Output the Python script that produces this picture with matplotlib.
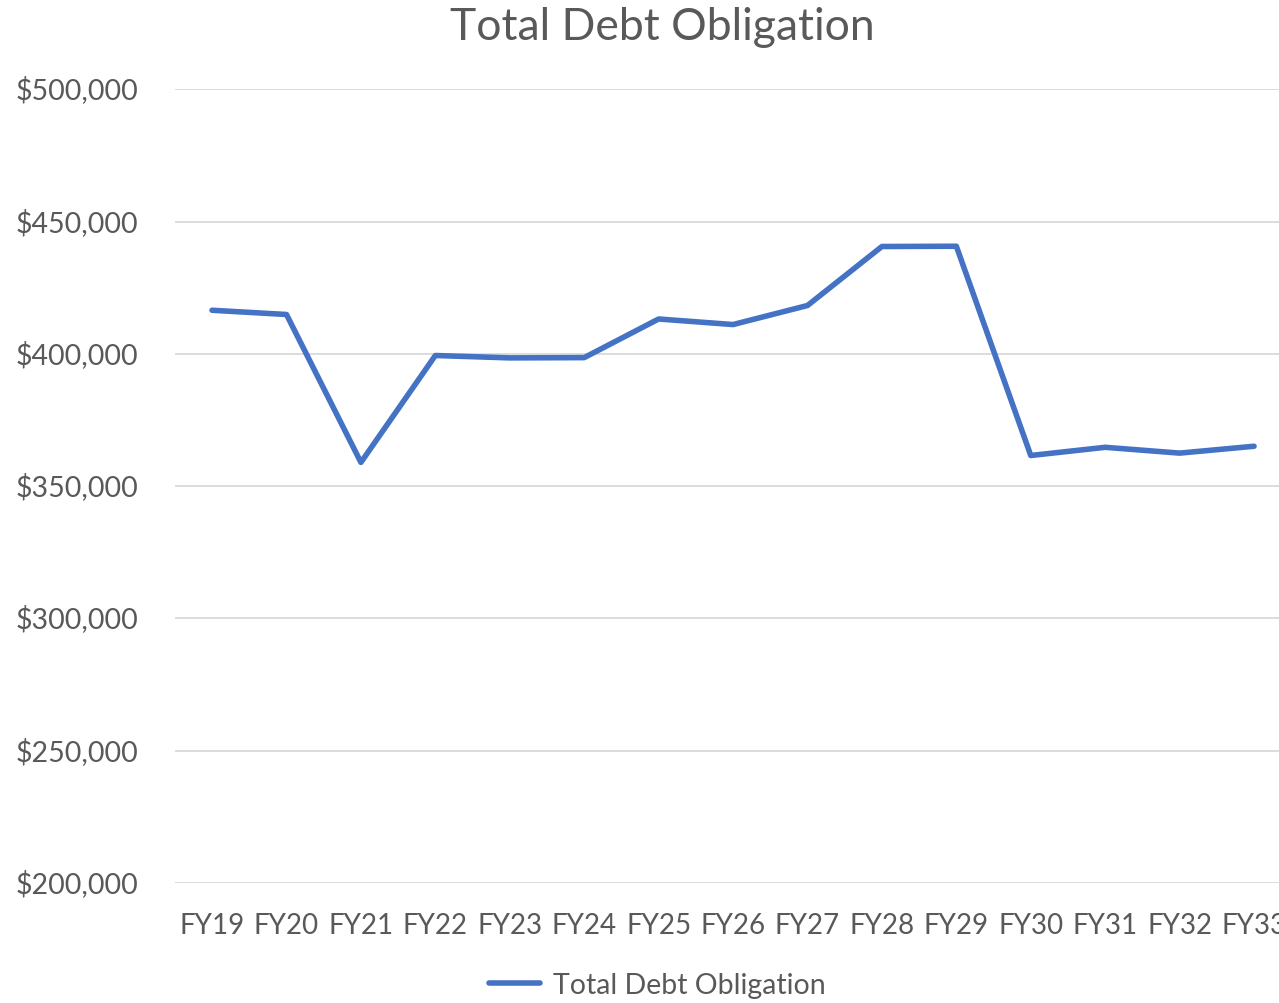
import matplotlib
matplotlib.use("Agg")
import matplotlib.pyplot as plt
from matplotlib.ticker import FuncFormatter, MultipleLocator

years = ["FY19", "FY20", "FY21", "FY22", "FY23", "FY24", "FY25", "FY26",
         "FY27", "FY28", "FY29", "FY30", "FY31", "FY32", "FY33"]
total_debt = [416500, 414900, 359000, 399400, 398500, 398600, 413200, 411100,
              418300, 440600, 440700, 361600, 364700, 362500, 365100]

TEXT = "#595959"
plt.rcParams['font.family'] = ['Lato', 'DejaVu Sans']

fig = plt.figure(figsize=(12.79, 10.04), dpi=100)
ax = fig.add_axes([0.1367, 0.1195, 0.8729, 0.7905])

x = list(range(len(years)))
ax.plot(x, total_debt, color="#4472C4", linewidth=4.0, solid_capstyle="round",
        solid_joinstyle="round", label="Total Debt Obligation", clip_on=False)

ax.set_xlim(-0.5, len(years) - 0.5)
ax.set_ylim(200000, 500000)
ax.yaxis.set_major_locator(MultipleLocator(50000))
ax.yaxis.set_major_formatter(FuncFormatter(lambda v, p: f"${v:,.0f}"))
ax.set_xticks(x)
ax.set_xticklabels(years)

ax.grid(axis="y", color="#D9D9D9", linewidth=1.3)
ax.set_axisbelow(True)
for s in ax.spines.values():
    s.set_visible(False)
ax.tick_params(axis="y", length=0, colors=TEXT, labelsize=20.5, pad=26)
ax.tick_params(axis="x", length=0, colors=TEXT, labelsize=20, pad=21)
for lbl in ax.get_yticklabels():
    lbl.set_va("center")

fig.text(0.5175, 0.973, "Total Debt Obligation", ha="center", va="center",
         fontsize=32, color=TEXT)

leg = fig.legend(loc="center", bbox_to_anchor=(657 / 1279, 1 - 986 / 1004),
                 frameon=False, fontsize=20.5, handlelength=1.8,
                 handletextpad=0.45, labelcolor=TEXT)

fig.savefig("out.png", dpi=100)
